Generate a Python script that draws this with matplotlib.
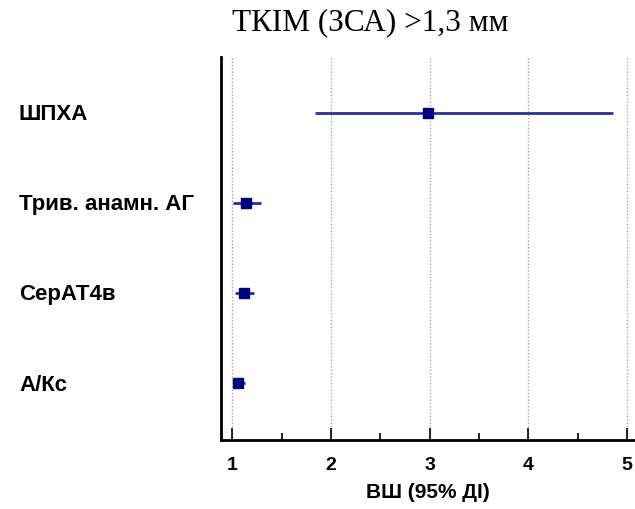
import numpy as np
import matplotlib.pyplot as plt
from matplotlib.ticker import MultipleLocator
from matplotlib.transforms import blended_transform_factory

# показники та відношення шансів з 95% ДІ
labels = ["ШПХА", "Трив. анамн. АГ", "СерАТ4в", "А/Кс"]
or_vals = [2.98, 1.135, 1.115, 1.06]
ci_low = [1.84, 1.01, 1.03, 1.01]
ci_high = [4.86, 1.29, 1.22, 1.125]
xticks = [1, 2, 3, 4, 5]

fig = plt.figure(figsize=(6.35, 5.09), dpi=100)
ax = fig.add_axes([0.3476, 0.1356, 0.6524, 0.752])

ypos = np.arange(len(labels), 0, -1)
or_arr = np.array(or_vals)
err = [or_arr - np.array(ci_low), np.array(ci_high) - or_arr]

ax.errorbar(or_arr, ypos, xerr=err, fmt="none", ecolor="#2e2e99", elinewidth=2, capsize=0, zorder=3)
ax.plot(or_arr, ypos, "s", color="#000080", markersize=6.5, zorder=4)

ax.set_xlim(0.882, 5.08)
ax.set_ylim(0.37, 4.62)
ax.set_xticks(xticks)
ax.set_xticklabels([str(t) for t in xticks], fontsize=14, fontweight="bold", family="Liberation Sans")
ax.xaxis.set_minor_locator(MultipleLocator(0.5))
ax.tick_params(axis="x", which="major", direction="in", length=9, width=1.2, pad=12)
ax.tick_params(axis="x", which="minor", direction="in", length=5, width=1.2)
ax.set_yticks([])
ax.grid(axis="x", which="major", linestyle=":", color="#999999", linewidth=0.9)
ax.set_axisbelow(True)

for s in ["top", "right"]:
    ax.spines[s].set_visible(False)
for s in ["left", "bottom"]:
    ax.spines[s].set_linewidth(2)

# підписи рядків ліворуч від осі
tr = blended_transform_factory(fig.transFigure, ax.transData)
for y, lab in zip(ypos, labels):
    ax.text(19 / 635, y - 0.02, lab, transform=tr, ha="left", va="center",
            fontsize=16, fontweight="bold", family="Liberation Sans")

ax.set_xlabel("ВШ (95% ДІ)", fontsize=15, fontweight="bold", family="Liberation Sans", labelpad=7)
fig.text(370 / 635, 1 - 23 / 509, "ТКІМ (ЗСА) >1,3 мм", ha="center", va="center",
         fontsize=22.5, family="Liberation Serif")

fig.savefig("out.png", dpi=100)
